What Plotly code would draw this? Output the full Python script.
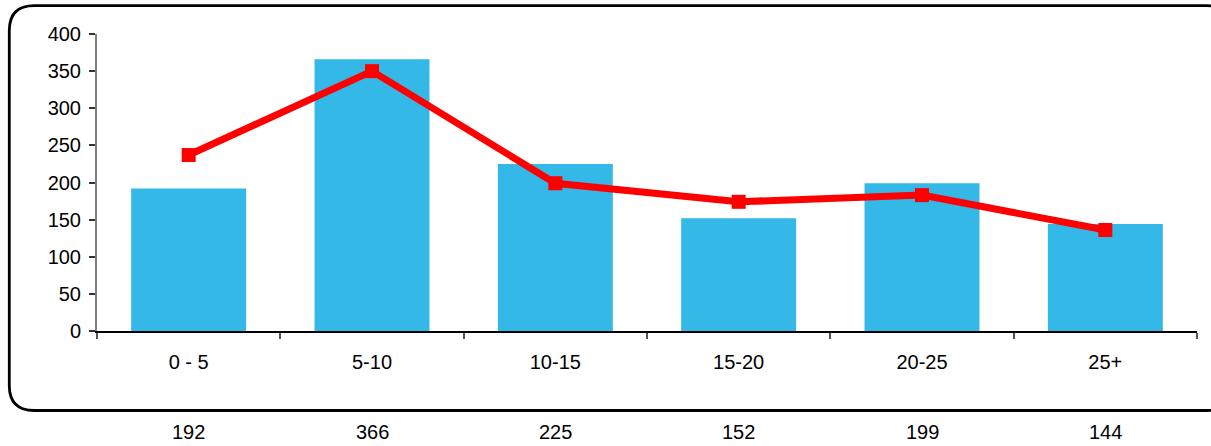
import plotly.graph_objects as go

categories = ["0 - 5", "5-10", "10-15", "15-20", "20-25", "25+"]
bar_values = [192, 366, 225, 152, 199, 144]
line_values = [237, 350, 199, 174, 183, 136]
count_labels = ["192", "366", "225", "152", "199", "144"]

W, H = 1211, 446
L, R, T, B = 97, 14, 34, 446 - 331
pw, ph = W - L - R, H - T - B

def px(x):
    return (x - L) / pw

def py(y):
    return (H - B - y) / ph

fig = go.Figure()
fig.add_trace(go.Bar(x=categories, y=bar_values, marker=dict(color="#33B8E8", line=dict(width=0)),
                     showlegend=False))
fig.add_trace(go.Scatter(x=categories, y=line_values, mode="lines+markers",
                         line=dict(color="#FF0000", width=7),
                         marker=dict(symbol="square", size=14, color="#FF0000"),
                         showlegend=False))

x0, x1, y0, y1, r = 9.3, 1232, 5.7, 410.5, 25
def P(cmd, *coords):
    vals = []
    for i in range(0, len(coords), 2):
        vals.append(f"{px(coords[i]):.5f},{py(coords[i+1]):.5f}")
    return cmd + " " + " ".join(vals)
path = " ".join([
    P("M", x0 + r, y0),
    P("L", x1 - r, y0),
    P("Q", x1, y0, x1, y0 + r),
    P("L", x1, y1 - r),
    P("Q", x1, y1, x1 - r, y1),
    P("L", x0 + r, y1),
    P("Q", x0, y1, x0, y1 - r),
    P("L", x0, y0 + r),
    P("Q", x0, y0, x0 + r, y0),
    "Z",
])
fig.add_shape(type="path", path=path, xref="paper", yref="paper",
              line=dict(color="black", width=2.8), layer="above")

for i, lab in enumerate(count_labels):
    fig.add_annotation(x=categories[i], y=py(432), xref="x", yref="paper",
                       text=lab, showarrow=False, yanchor="middle",
                       font=dict(size=20, color="black"))

fig.update_layout(
    width=W, height=H,
    margin=dict(l=L, r=R, t=T, b=B, pad=0),
    paper_bgcolor="white", plot_bgcolor="white",
    bargap=0.373,
    font=dict(family="Liberation Sans, Arial, sans-serif", size=20, color="black"),
)
fig.update_xaxes(type="category", showline=True, linecolor="black", linewidth=1.5,
                 ticks="outside", tickson="boundaries", ticklen=6, tickcolor="#555555",
                 tickwidth=1.5, showgrid=False, zeroline=False,
                 ticklabelstandoff=12, tickfont=dict(size=20))
fig.update_yaxes(range=[0, 400], tickvals=[0, 50, 100, 150, 200, 250, 300, 350, 400],
                 showline=True, linecolor="#808080", linewidth=2,
                 ticks="outside", ticklen=6, tickcolor="#333333", tickwidth=1.5,
                 showgrid=False, zeroline=False, ticklabelstandoff=4,
                 tickfont=dict(size=20))

fig.write_html("out.html", config={"displayModeBar": False},
               post_script="document.body.style.margin='0px';")
